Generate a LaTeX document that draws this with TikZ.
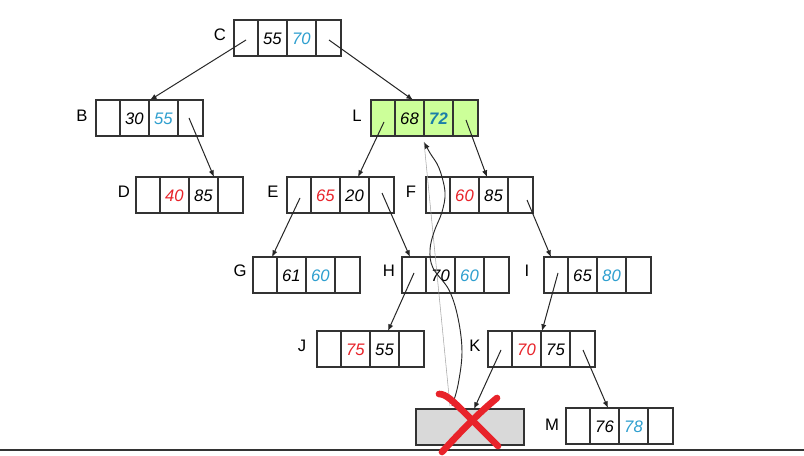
\documentclass[tikz,border=0pt]{standalone}
\usepackage{fontspec}
\setmainfont{Liberation Sans}
\usetikzlibrary{arrows.meta,calc}
\definecolor{kred}{HTML}{E8232A}
\definecolor{kblue}{HTML}{2E9FCF}
\definecolor{kteal}{HTML}{1B7FA8}
\definecolor{lgreen}{HTML}{CCFF99}
\definecolor{lgray}{HTML}{D9D9D9}
\definecolor{bord}{HTML}{333333}
\tikzset{
  recbox/.style={draw=bord, line width=0.9pt, minimum width=80.25pt, minimum height=27pt, inner sep=0pt, outer sep=0pt, anchor=north west},
  cellline/.style={draw=bord, line width=0.9pt},
  keytxt/.style={font=\fontsize{12.5}{14}\selectfont\itshape, inner sep=0pt},
  lbl/.style={font=\fontsize{12.5}{14}\selectfont, inner sep=0pt},
  ptr/.style={draw=black!85, line width=0.75pt, -{Latex[length=5pt,width=4pt]}},
  xstroke/.style={draw=kred, line width=5pt, line cap=round, line join=round},
}
% #1 name, #2 left, #3 top, #4 key1, #5 colour1, #6 key2, #7 colour2, #8 fill
\newcommand\recnode[8]{%
  \node[recbox, fill=#8] (#1) at (#2,#3) {};
  \draw[cellline] (#2+24,#3) -- (#2+24,#3+36);
  \draw[cellline] (#2+53,#3) -- (#2+53,#3+36);
  \draw[cellline] (#2+82,#3) -- (#2+82,#3+36);
  \node[keytxt, text=#5] (#1-a) at (#2+38.5,#3+18.5) {#4};
  \node[keytxt, text=#7] (#1-b) at (#2+67.5,#3+18.5) {#6};
  \coordinate (#1-p) at (#2+12,#3+20);
  \coordinate (#1-q) at (#2+95,#3+20);
}
\begin{document}
\begin{tikzpicture}[x=0.75pt,y=-0.75pt]
\useasboundingbox (0,0) rectangle (804,456);
\fill[white] (0,0) rectangle (804,456);

% bottom rule
\coordinate (ruleL) at (0,450);
\coordinate (ruleR) at (804,450);
\draw[bord, line width=1.9pt] (ruleL) -- (ruleR);

% nodes
\recnode{C}{234}{20}{55}{black}{70}{kblue}{white}
\recnode{B}{96}{100}{30}{black}{55}{kblue}{white}
\recnode{L}{371}{100}{68}{black}{\textbf{72}}{kteal}{lgreen}
\recnode{D}{136}{177}{40}{kred}{85}{black}{white}
\recnode{E}{287}{177}{65}{kred}{20}{black}{white}
\recnode{F}{426}{177}{60}{kred}{85}{black}{white}
\recnode{G}{253}{257}{61}{black}{60}{kblue}{white}
\recnode{H}{402}{257}{70}{black}{60}{kblue}{white}
\recnode{I}{544}{257}{65}{black}{80}{kblue}{white}
\recnode{J}{317}{331}{75}{kred}{55}{black}{white}
\recnode{K}{488}{331}{70}{kred}{75}{black}{white}
\recnode{M}{566}{408}{76}{black}{78}{kblue}{white}
\node[recbox, minimum width=81pt, fill=lgray] (X) at (416,409) {};

% labels
\node[lbl] (lC) at (220,35) {C};
\node[lbl] (lB) at (82,116) {B};
\node[lbl] (lL) at (357,116) {L};
\node[lbl] (lD) at (124,192) {D};
\node[lbl] (lE) at (273,192) {E};
\node[lbl] (lF) at (411,192) {F};
\node[lbl] (lG) at (240,271) {G};
\node[lbl] (lH) at (389,271) {H};
\node[lbl] (lI) at (527,271) {I};
\node[lbl] (lJ) at (302,346) {J};
\node[lbl] (lK) at (475,346) {K};
\node[lbl] (lM) at (552,425) {M};

% pointers
\draw[ptr] (C-p) -- ($(B.north west)+(54,0)$);
\draw[ptr] (C-q) -- ($(L.north west)+(42,0)$);
\draw[ptr] ($(B-q)+(-2,-2)$) -- ($(D.north west)+(78,0)$);
\draw[ptr] ($(L-p)+(1,2)$) -- ($(E.north west)+(71,0)$);
\draw[ptr] (L-q) -- ($(F.north west)+(61,0)$);
\draw[ptr] ($(E-p)+(1,1)$) -- ($(G.north west)+(19,0)$);
\draw[ptr] ($(E-q)+(0,-4)$) -- ($(H.north west)+(8,0)$);
\draw[ptr] ($(F-q)+(6,3)$) -- ($(I.north west)+(7,0)$);
\draw[ptr] ($(H-p)+(0,-4)$) -- ($(J.north west)+(71,0)$);
\draw[ptr] ($(I-p)+(2,-4)$) -- ($(K.north west)+(54,0)$);
\draw[ptr] ($(K-p)+(1,-1)$) -- ($(X.north west)+(58,0)$);
\draw[ptr] ($(K-q)+(0,-1)$) -- ($(M.north west)+(42,0)$);

% thin line and wavy return curve
\coordinate (wS) at (452,406);
\coordinate (tS) at (450,406);
\coordinate (wE) at (424,142);
\draw[black!35, line width=0.4pt] (tS) -- (wE);
\draw[black!85, line width=0.7pt, -{Latex[length=5pt,width=4pt]}]
  plot[smooth, tension=0.6] coordinates {(wS) (458,385) (462,352) (458,318) (449,290) (433,268) (430,250) (434,232) (442,212) (445,192) (439,168) (430,153) (wE)};

% red cross
\coordinate (x1a) at (439,394);
\coordinate (x1b) at (498,446);
\coordinate (x2a) at (497,398);
\coordinate (x2b) at (442,452);
\draw[xstroke] (x1a) .. controls (446,394) and (452,400) .. (470,418) .. controls (482,430) and (490,438) .. (x1b);
\draw[xstroke] (x2a) .. controls (480,412) and (462,430) .. (x2b);
\end{tikzpicture}
\end{document}
